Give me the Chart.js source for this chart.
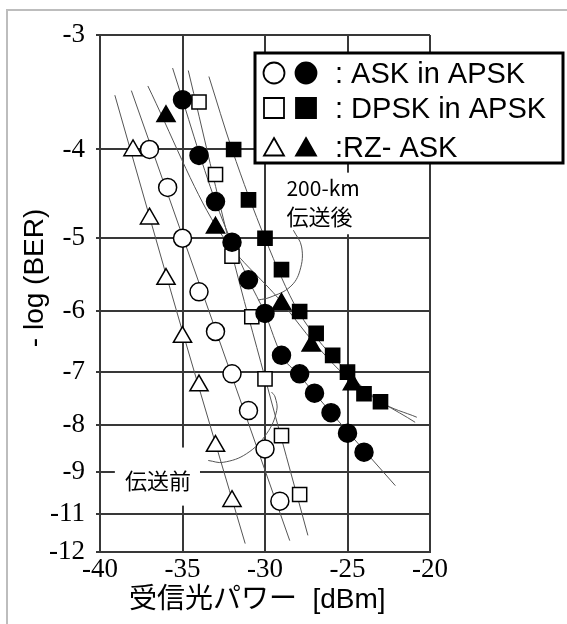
<!DOCTYPE html>
<html>
<head>
<meta charset="utf-8">
<script src="https://cdn.jsdelivr.net/npm/chart.js@4/dist/chart.umd.min.js"></script>
<style>
  html, body { margin: 0; padding: 0; background: #fff; }
  #wrap { width: 567px; height: 624px; }
</style>
</head>
<body>
<div id="wrap"><canvas id="chart1" width="567" height="624"></canvas></div>
<script>
// axis ticks
var xTicks = [-40, -35, -30, -25, -20];
var yTickPos = [3, 4, 5, 6, 7, 8, 9, 10, 11]; // place on the BER scale (-log BER)
var yTickLabels = ['-3', '-4', '-5', '-6', '-7', '-8', '-9', '-11', '-12'];

// measured points: [received power dBm, -log(BER)]
var askBefore = [[-37.0, 4.00], [-35.9, 4.40], [-35.0, 5.00], [-34.0, 5.72], [-33.0, 6.32], [-32.0, 7.03], [-31.0, 7.71], [-30.0, 8.49], [-29.1, 9.68]];
var askAfter = [[-35.0, 3.53], [-34.0, 4.06], [-33.0, 4.56], [-32.0, 5.05], [-31.0, 5.55], [-30.0, 6.04], [-29.0, 6.71], [-27.9, 7.03], [-27.0, 7.38], [-26.0, 7.75], [-25.0, 8.16], [-24.0, 8.56]];
var dpskBefore = [[-34.0, 3.55], [-33.0, 4.26], [-32.0, 5.23], [-30.8, 6.09], [-30.0, 7.12], [-29.0, 8.21], [-27.9, 9.52]];
var dpskAfter = [[-31.9, 4.00], [-31.0, 4.54], [-30.0, 5.00], [-29.0, 5.41], [-27.9, 6.01], [-26.9, 6.35], [-25.9, 6.71], [-25.0, 7.00], [-24.0, 7.39], [-23.0, 7.54]];
var rzBefore = [[-38.0, 4.01], [-37.0, 4.76], [-36.0, 5.54], [-35.0, 6.41], [-34.0, 7.24], [-33.0, 8.43], [-32.0, 9.68]];
var rzAfter = [[-36.0, 3.68], [-33.0, 4.87], [-29.0, 5.90], [-27.2, 6.55], [-24.7, 7.22]];

// fitted curves
var askBeforeFit = [[-38.1, 3.45], [-28.5, 10.69]];
var askAfterFit = [[-35.6, 3.26], [-33.0, 4.56], [-31.0, 5.55], [-30.0, 6.04], [-29.0, 6.71], [-28.0, 7.03], [-26.0, 7.75], [-22.1, 9.31]];
var dpskBeforeFit = [[-34.65, 3.28], [-32.0, 5.2], [-30.0, 7.1], [-27.4, 10.55]];
var dpskAfterFit = [[-33.4, 3.33], [-32.0, 4.0], [-30.0, 5.0], [-28.0, 6.0], [-25.0, 7.0], [-23.0, 7.54], [-20.8, 7.84]];
var rzBeforeFit = [[-39.1, 3.49], [-35.0, 6.32], [-31.2, 10.77]];
var rzAfterFit = [[-37.1, 3.41], [-33.0, 4.84], [-29.0, 5.87], [-27.0, 6.51], [-24.7, 7.18], [-20.9, 7.94]];

// leader curves for the notes
var afterLeader = [[-28.28, 4.90], [-27.78, 5.11], [-27.88, 5.42], [-28.48, 5.65], [-29.7, 5.80], [-30.42, 5.84]];
var beforeLeader = [[-33.44, 8.74], [-32.53, 8.78], [-31.11, 8.59], [-29.9, 8.17], [-29.29, 7.71], [-29.39, 7.45], [-29.6, 7.36]];

var legendLabels = [': ASK in APSK', ': DPSK in APSK', ':RZ- ASK'];

var gridColor = '#383838';
var latin = "'Liberation Sans', 'Noto Sans CJK JP', sans-serif";
var cjk = "'Noto Sans CJK JP', sans-serif";

// -log(BER) -> axis value (log of -log BER, top is -3)
function toY(n) { return -Math.log10(n); }
function pts(a) {
  return a.map(function (p) { return { x: p[0], y: toY(p[1]) }; });
}
function marks(data, style, filled, r) {
  return {
    type: 'scatter', data: pts(data), pointStyle: style,
    pointRadius: r, pointHoverRadius: r,
    backgroundColor: filled ? '#000' : '#fff', borderColor: '#000', borderWidth: 1.5,
    order: 1
  };
}
function curve(data, smooth) {
  var ds = {
    type: 'line', data: pts(data), borderColor: '#555', borderWidth: 1,
    pointRadius: 0, fill: false, order: 5
  };
  if (smooth) ds.tension = 0.4; else ds.cubicInterpolationMode = 'monotone';
  return ds;
}

// white page with its grey frame
var pagePlugin = {
  id: 'page',
  beforeDraw: function (chart) {
    var ctx = chart.ctx;
    ctx.save();
    ctx.fillStyle = '#fff';
    ctx.fillRect(0, 0, chart.width, chart.height);
    ctx.strokeStyle = '#bdbdbd';
    ctx.lineWidth = 2;
    ctx.strokeRect(7, 10, 700, 700);
    ctx.restore();
  }
};

// note labels with white boxes over the grid
var notesPlugin = {
  id: 'notes',
  beforeDatasetsDraw: function (chart) {
    var ctx = chart.ctx, xs = chart.scales.x, ys = chart.scales.y;
    function px(x) { return xs.getPixelForValue(x); }
    function py(n) { return ys.getPixelForValue(toY(n)); }
    ctx.save();
    ctx.fillStyle = '#fff';
    ctx.fillRect(px(-39.1), py(8.46), px(-33.94) - px(-39.1), py(9.79) - py(8.46));
    ctx.fillRect(px(-29.09), py(4.24), px(-24.48) - px(-29.09), py(4.95) - py(4.24));
    ctx.fillStyle = '#000';
    ctx.textAlign = 'left';
    ctx.textBaseline = 'middle';
    ctx.font = '22px ' + cjk;
    ctx.fillText('伝送前', px(-38.48), py(9.20));
    ctx.fillText('伝送後', px(-28.7), py(4.74));
    ctx.font = '21px ' + cjk;
    ctx.fillText('200-km', px(-28.7), py(4.41));
    ctx.restore();
  }
};

// legend box: open + filled symbol per row
var legendPlugin = {
  id: 'boxLegend',
  afterDraw: function (chart) {
    var ctx = chart.ctx;
    var rows = [73, 108, 147];
    var base = [83, 118, 157];
    ctx.save();
    ctx.fillStyle = '#fff';
    ctx.fillRect(255, 53, 308, 110);
    ctx.strokeStyle = '#000';
    ctx.lineWidth = 3;
    ctx.strokeRect(255, 53, 308, 110);
    ctx.lineWidth = 1.8;
    for (var i = 0; i < 3; i++) {
      [274, 306].forEach(function (cx, k) {
        var cy = rows[i];
        ctx.beginPath();
        if (i === 0) ctx.arc(cx, cy, 10.5, 0, Math.PI * 2);
        if (i === 1) ctx.rect(cx - 10, cy - 10, 20, 20);
        if (i === 2) { ctx.moveTo(cx, cy - 9); ctx.lineTo(cx + 10, cy + 8.5); ctx.lineTo(cx - 10, cy + 8.5); ctx.closePath(); }
        ctx.fillStyle = k === 0 ? '#fff' : '#000';
        ctx.fill();
        ctx.stroke();
      });
      ctx.fillStyle = '#000';
      ctx.font = '29px ' + latin;
      ctx.textBaseline = 'alphabetic';
      ctx.fillText(legendLabels[i], 335, base[i]);
    }
    ctx.restore();
  }
};

new Chart(document.getElementById('chart1'), {
  type: 'scatter',
  data: {
    datasets: [
      marks(askBefore, 'circle', false, 9),
      marks(askAfter, 'circle', true, 9),
      marks(dpskBefore, 'rect', false, 10),
      marks(dpskAfter, 'rect', true, 10),
      marks(rzBefore, 'triangle', false, 10.5),
      marks(rzAfter, 'triangle', true, 10.5),
      curve(askBeforeFit), curve(askAfterFit),
      curve(dpskBeforeFit), curve(dpskAfterFit),
      curve(rzBeforeFit), curve(rzAfterFit),
      curve(afterLeader, true), curve(beforeLeader, true)
    ]
  },
  options: {
    responsive: false,
    animation: false,
    devicePixelRatio: 1,
    events: [],
    layout: { padding: { left: 0, right: 137, top: 35, bottom: 0 } },
    plugins: { legend: { display: false }, tooltip: { enabled: false } },
    scales: {
      x: {
        type: 'linear', min: -40, max: -20,
        afterBuildTicks: function (axis) { axis.ticks = xTicks.map(function (v) { return { value: v }; }); },
        afterFit: function (axis) { axis.height = 72; },
        grid: { color: gridColor, lineWidth: 2, tickLength: 0 },
        border: { color: gridColor, width: 2 },
        ticks: { color: '#000', padding: 2, autoSkip: false, maxRotation: 0, font: { family: 'Liberation Serif', size: 27 } },
        title: { display: true, text: '受信光パワー  [dBm]  ', color: '#000', padding: { top: 0, bottom: 7 }, font: { family: latin, size: 28 } }
      },
      y: {
        type: 'linear', min: toY(11), max: toY(3),
        afterBuildTicks: function (axis) { axis.ticks = yTickPos.map(function (n) { return { value: toY(n) }; }); },
        afterFit: function (axis) { axis.width = 100; },
        grid: { color: gridColor, lineWidth: 2, tickLength: 4 },
        border: { color: gridColor, width: 2 },
        ticks: {
          color: '#000', padding: 11, autoSkip: false, font: { family: 'Liberation Serif', size: 27 },
          callback: function (v, i) { return yTickLabels[i]; }
        },
        title: { display: true, text: '    - log (BER)', color: '#000', padding: { top: 18, bottom: 0 }, font: { family: latin, size: 28 } }
      }
    }
  },
  plugins: [pagePlugin, notesPlugin, legendPlugin]
});
</script>
</body>
</html>
